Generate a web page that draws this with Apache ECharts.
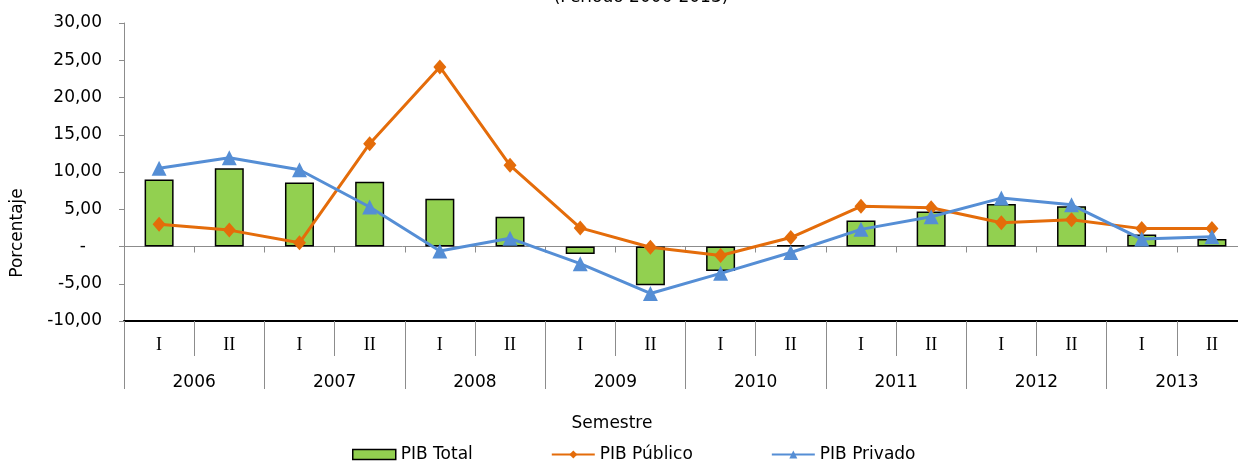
<!DOCTYPE html>
<html>
<head>
<meta charset="utf-8">
<script src="https://cdn.jsdelivr.net/npm/echarts@6/dist/echarts.min.js"></script>
<style>
html,body{margin:0;padding:0;background:#fff;}
#c{width:1238px;height:461px;}
</style>
</head>
<body>
<div id="c"></div>
<script>
var semesters = ['I','II','I','II','I','II','I','II','I','II','I','II','I','II','I','II'];
var years = ['2006','2007','2008','2009','2010','2011','2012','2013'];
var pibTotal = [9.0, 10.5, 8.6, 8.7, 6.4, 4.0, -1.0, -5.2, -3.3, 0.2, 3.5, 4.7, 5.7, 5.4, 1.6, 1.0];
var pibPublico = [3.0, 2.2, 0.5, 13.8, 24.1, 10.9, 2.5, -0.1, -1.2, 1.2, 5.4, 5.2, 3.2, 3.6, 2.4, 2.4];
var pibPrivado = [10.5, 11.9, 10.3, 5.3, -0.6, 1.1, -2.3, -6.3, -3.6, -0.8, 2.3, 4.0, 6.5, 5.6, 1.0, 1.3];
var titleText = '(Período 2006-2013)';
var yName = 'Porcentaje';
var xName = 'Semestre';

var FONT = 'DejaVu Sans';
var GREY = '#8c8c8c';
var chart = echarts.init(document.getElementById('c'));
chart.setOption({
  animation: false,
  backgroundColor: '#fff',
  grid: {left: 124, width: 1123, top: 23, height: 298, containLabel: false, outerBoundsMode: 'none'},
  legend: {
    left: 347, top: 441,
    itemWidth: 43, itemHeight: 10, itemGap: 78,
    textStyle: {fontFamily: FONT, fontSize: 17, color: '#000'},
    data: [
      {name: 'PIB Total', icon: 'rect', itemStyle: {color: '#92D050', borderColor: '#000', borderWidth: 1.5}},
      {name: 'PIB Público'},
      {name: 'PIB Privado'}
    ]
  },
  xAxis: [
    {
      type: 'category', data: semesters, position: 'bottom',
      axisLine: {onZero: true, lineStyle: {color: GREY, width: 1}},
      axisTick: {show: true, length: 6, lineStyle: {color: GREY}},
      axisLabel: {show: false}, splitLine: {show: false}
    },
    {
      type: 'category', data: semesters, position: 'bottom',
      axisLine: {onZero: false, lineStyle: {color: '#000', width: 2}},
      axisTick: {show: true, length: 35, lineStyle: {color: GREY}},
      axisLabel: {fontFamily: 'Liberation Serif', fontSize: 18, color: '#000', margin: 15, interval: 0},
      splitLine: {show: false}
    },
    {
      type: 'category', data: years, position: 'bottom',
      axisLine: {show: false, onZero: false},
      axisTick: {show: true, length: 68, lineStyle: {color: GREY}},
      axisLabel: {fontFamily: FONT, fontSize: 17, color: '#000', margin: 53, interval: 0},
      splitLine: {show: false}
    }
  ],
  yAxis: {
    type: 'value', min: -10, max: 30, interval: 5,
    axisLine: {show: true, onZero: false, lineStyle: {color: GREY}},
    axisTick: {show: true, length: 5, lineStyle: {color: GREY}},
    splitLine: {show: false},
    axisLabel: {
      fontFamily: FONT, fontSize: 17, color: '#000', margin: 22,
      formatter: function (v) {
        if (v === 0) return '-\u00a0\u00a0\u00a0';
        return v.toFixed(2).replace('.', ',');
      }
    }
  },
  graphic: [
    {type: 'text', x: 641, y: -2, style: {text: titleText, x: 0, y: 0, align: 'center', verticalAlign: 'middle', font: '17px "DejaVu Sans"', fill: '#000'}},
    {type: 'text', x: 18, y: 233, rotation: Math.PI / 2, style: {text: yName, x: 0, y: 0, align: 'center', verticalAlign: 'middle', font: '17px "DejaVu Sans"', fill: '#000'}},
    {type: 'text', x: 612, y: 424, style: {text: xName, x: 0, y: 0, align: 'center', verticalAlign: 'middle', font: '17px "DejaVu Sans"', fill: '#000'}}
  ],
  series: [
    {
      name: 'PIB Total', type: 'bar', xAxisIndex: 0, data: pibTotal, barWidth: 29,
      itemStyle: {color: '#92D050', borderColor: '#000', borderWidth: 1.5}
    },
    {
      name: 'PIB Público', type: 'line', xAxisIndex: 0, data: pibPublico,
      symbol: 'diamond', symbolSize: [13, 15], showAllSymbol: true,
      lineStyle: {color: '#E46C0A', width: 3}, itemStyle: {color: '#E46C0A'}
    },
    {
      name: 'PIB Privado', type: 'line', xAxisIndex: 0, data: pibPrivado,
      symbol: 'triangle', symbolSize: 15, showAllSymbol: true,
      lineStyle: {color: '#558ED5', width: 3}, itemStyle: {color: '#558ED5'}
    }
  ]
});
</script>
</body>
</html>
